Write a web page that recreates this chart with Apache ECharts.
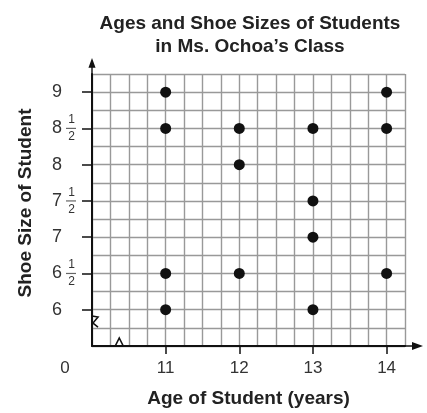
<!DOCTYPE html>
<html>
<head>
<meta charset="utf-8">
<script src="https://cdn.jsdelivr.net/npm/echarts@6/dist/echarts.min.js"></script>
<style>
  html, body { margin: 0; padding: 0; background: #fff; }
  #main { width: 427px; height: 413px; }
</style>
</head>
<body>
<div id="main"></div>
<script>
// ages on x, shoe sizes on y
var ages = [11, 11, 11, 11, 12, 12, 12, 13, 13, 13, 13, 14, 14, 14];
var sizes = [9, 8.5, 6.5, 6, 8.5, 8, 6.5, 8.5, 7.5, 7, 6, 9, 8.5, 6.5];
var ageTicks = [10, 11, 12, 13, 14];
var sizeTicks = [6, 6.5, 7, 7.5, 8, 8.5, 9];

var font = 'Liberation Sans, Arial, Helvetica, sans-serif';
var points = ages.map(function (a, i) { return [a, sizes[i]]; });
// arrow with a short shaft, tip pointing outward
var arrow = 'path://M4,0 L8,11 L4.8,11 L4.8,18 L3.2,18 L3.2,11 L0,11 Z';
var gridLine = { show: true, lineStyle: { color: '#999', width: 1.4 } };

var chart = echarts.init(document.getElementById('main'));
chart.setOption({
    animation: false,
    title: {
        text: 'Ages and Shoe Sizes of Students\nin Ms. Ochoa\u2019s Class',
        left: 245,
        top: 7,
        textAlign: 'center',
        textStyle: {
            fontFamily: font,
            fontSize: 19,
            fontWeight: 'bold',
            color: '#222',
            lineHeight: 23
        }
    },
    grid: { left: 92, right: 22, top: 74, bottom: 64 },
    xAxis: [
        {
            // quarter-year grid
            type: 'value', min: 10, max: 14.25, interval: 0.25,
            axisLine: { show: false }, axisTick: { show: false }, axisLabel: { show: false },
            splitLine: gridLine
        },
        {
            type: 'value', min: 10, max: 14.25, position: 'bottom',
            name: 'Age of Student (years)',
            nameLocation: 'middle',
            nameGap: 43,
            nameTextStyle: { fontFamily: font, fontSize: 19, fontWeight: 'bold', color: '#222' },
            axisLine: {
                onZero: false,
                lineStyle: { color: '#111', width: 2 },
                symbol: ['none', arrow],
                symbolSize: [9, 18],
                symbolOffset: [0, 9]
            },
            axisTick: { show: true, customValues: ageTicks.slice(1), length: 8, lineStyle: { color: '#111', width: 1.5 } },
            axisLabel: {
                customValues: ageTicks,
                margin: 14,
                fontFamily: font,
                fontSize: 17,
                color: '#333',
                formatter: function (v) { return v === 10 ? '{z|0}' : String(v); },
                rich: { z: { fontFamily: font, fontSize: 17, color: '#333', padding: [0, 54, 0, 0] } }
            },
            splitLine: { show: false }
        }
    ],
    yAxis: [
        {
            // quarter-size grid
            type: 'value', min: 5.5, max: 9.25, interval: 0.25,
            axisLine: { show: false }, axisTick: { show: false }, axisLabel: { show: false },
            splitLine: gridLine
        },
        {
            type: 'value', min: 5.5, max: 9.25, position: 'left',
            name: 'Shoe Size of Student',
            nameLocation: 'middle',
            nameGap: 57,
            nameTextStyle: { fontFamily: font, fontSize: 19, fontWeight: 'bold', color: '#222', padding: [0, 0, 0, 14] },
            axisLine: {
                onZero: false,
                lineStyle: { color: '#111', width: 2 },
                symbol: ['none', arrow],
                symbolSize: [9, 16],
                symbolOffset: [0, 8]
            },
            axisTick: { show: true, customValues: sizeTicks, length: 10, lineStyle: { color: '#111', width: 1.5 } },
            axisLabel: {
                customValues: sizeTicks,
                margin: 16,
                formatter: function (v) {
                    var whole = Math.floor(v);
                    if (v === whole) return '{wi|' + whole + '}';
                    return '{num|1}\n{w|' + whole + '}{bar|}\n{den|2}';
                },
                rich: {
                    wi: { fontFamily: font, fontSize: 18, color: '#333', padding: [0, 14, 0, 0] },
                    w: { fontFamily: font, fontSize: 18, color: '#333', lineHeight: 6, padding: [0, 4, 0, 0] },
                    bar: { width: 10, height: 1.2, backgroundColor: '#666' },
                    num: { fontFamily: font, fontSize: 12, color: '#333', lineHeight: 11, padding: [0, 1, 0, 0] },
                    den: { fontFamily: font, fontSize: 12, color: '#333', lineHeight: 11, padding: [0, 1, 0, 0] }
                }
            },
            splitLine: { show: false }
        }
    ],
    series: [{
        type: 'scatter',
        xAxisIndex: 1,
        yAxisIndex: 1,
        data: points,
        symbol: 'circle',
        symbolSize: 11,
        itemStyle: { color: '#111', opacity: 1 },
        z: 5
    }]
});

// scale-break marks on both axes
var yb = chart.convertToPixel({ xAxisIndex: 1, yAxisIndex: 1 }, [10, 5.83]);
var xb = chart.convertToPixel({ xAxisIndex: 1, yAxisIndex: 1 }, [10.37, 5.5]);
chart.setOption({
    graphic: [
        {
            type: 'polyline',
            shape: { points: [[yb[0], yb[1] - 6], [yb[0] + 6, yb[1] - 5], [yb[0] + 1, yb[1] + 1], [yb[0] + 6, yb[1] + 5]] },
            style: { stroke: '#111', lineWidth: 1.6, fill: null },
            z: 10
        },
        {
            type: 'polyline',
            shape: { points: [[xb[0] - 4, xb[1]], [xb[0], xb[1] - 8], [xb[0] + 4, xb[1]]] },
            style: { stroke: '#111', lineWidth: 1.6, fill: null },
            z: 10
        }
    ]
});
</script>
</body>
</html>
